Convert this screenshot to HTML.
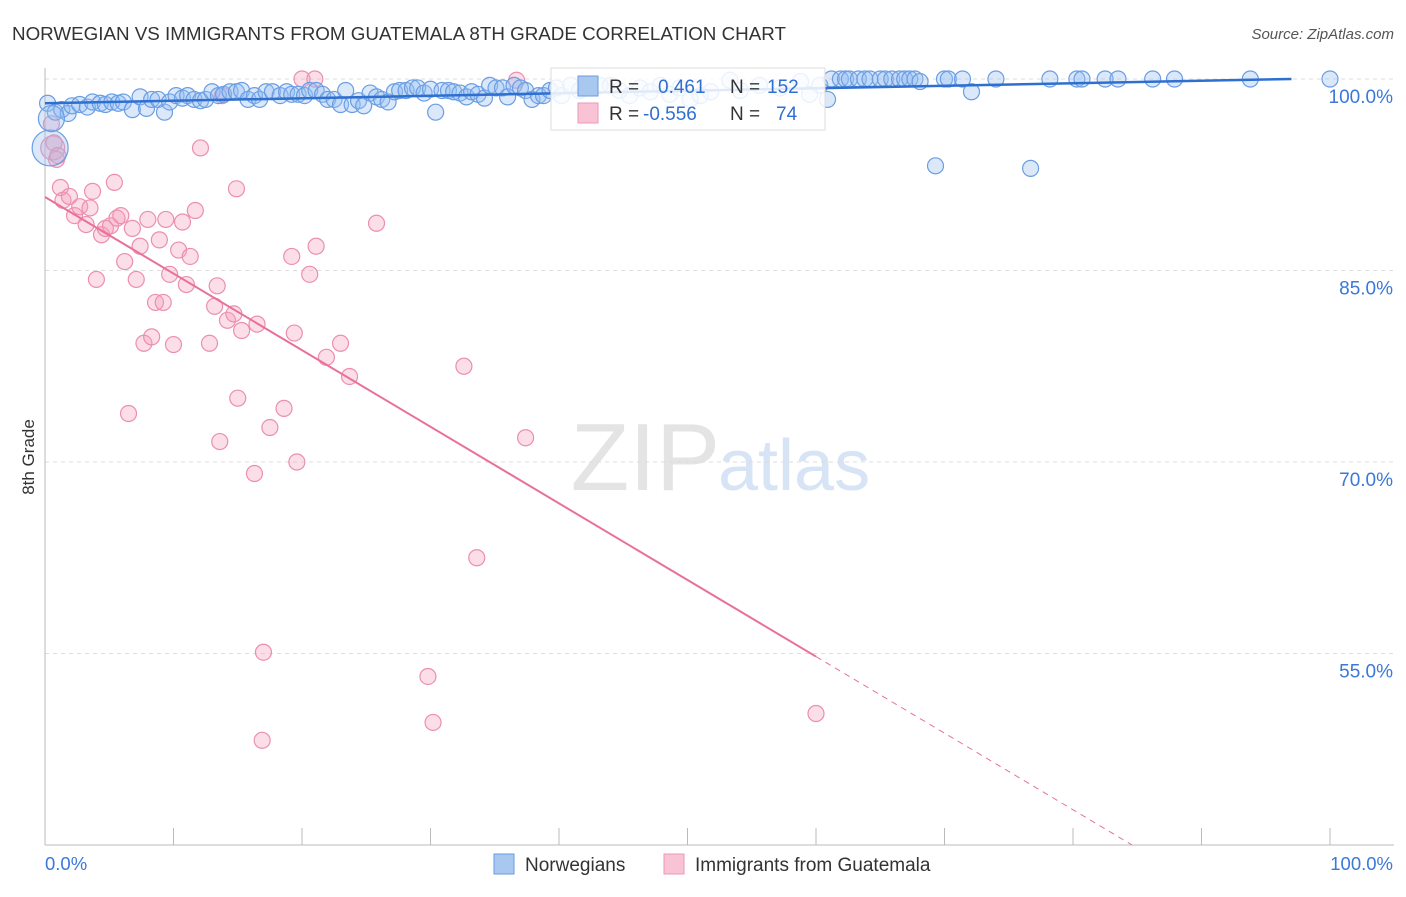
<!DOCTYPE html>
<html><head><meta charset="utf-8"><style>
body{margin:0;background:#fff;font-family:"Liberation Sans",sans-serif}
svg text{font-family:"Liberation Sans",sans-serif}
</style></head><body>
<svg width="1406" height="892">
<text x="12" y="40" font-size="18.8" fill="#333">NORWEGIAN VS IMMIGRANTS FROM GUATEMALA 8TH GRADE CORRELATION CHART</text>
<text x="1394" y="39" font-size="15" fill="#555" text-anchor="end" font-style="italic">Source: ZipAtlas.com</text>
<text x="720" y="490" font-size="96" fill="#e4e4e4" text-anchor="end" font-family="Liberation Serif">ZIP</text>
<text x="718" y="490" font-size="72" fill="#d6e4f5">atlas</text>
<g id="grid"></g>
<g id="axes"></g>
<g id="pts"></g>
<g id="lines"></g>
<text x="34" y="457" font-size="17" fill="#333" transform="rotate(-90 34 457)" text-anchor="middle">8th Grade</text>
<g>
<rect x="551" y="68" width="274" height="62" fill="#fff" fill-opacity="0.85" stroke="#ddd"/>
<rect x="578" y="76" width="20" height="20" fill="#a9c8f0" stroke="#6a9be0"/>
<rect x="578" y="103" width="20" height="20" fill="#f8c3d4" stroke="#ec9ab5"/>
<text x="609" y="93" font-size="19" fill="#333">R =</text>
<text x="658" y="93" font-size="19" fill="#2f6fd0">0.461</text>
<text x="730" y="93" font-size="19" fill="#333">N =</text>
<text x="767" y="93" font-size="19" fill="#2f6fd0">152</text>
<text x="609" y="120" font-size="19" fill="#333">R =</text>
<text x="643" y="120" font-size="19" fill="#2f6fd0">-0.556</text>
<text x="730" y="120" font-size="19" fill="#333">N =</text>
<text x="776" y="120" font-size="19" fill="#2f6fd0">74</text>
</g>
<g>
<rect x="494" y="854" width="20" height="20" fill="#a9c8f0" stroke="#6a9be0"/>
<text x="525" y="871" font-size="19" fill="#333">Norwegians</text>
<rect x="664" y="854" width="20" height="20" fill="#f8c3d4" stroke="#ec9ab5"/>
<text x="695" y="871" font-size="19" fill="#333">Immigrants from Guatemala</text>
</g>
</svg>
<script>
const yTicks=[100,85,70,55];
const yTickLabels=["100.0%","85.0%","70.0%","55.0%"];
const xTickLabels=["0.0%","100.0%"];
const blueX=[0.2,0.8,1.3,1.8,2.1,2.7,3.3,3.7,4.3,4.7,5.2,5.7,6.1,6.8,7.4,7.9,8.3,8.8,9.3,9.7,10.2,10.7,11.1,11.6,12.1,12.5,13.0,13.5,13.9,14.4,14.9,15.3,15.8,16.3,16.7,17.2,17.7,18.3,18.8,19.2,19.7,20.2,20.6,21.1,21.6,22.0,22.5,23.0,23.4,23.9,24.4,24.8,25.3,25.8,26.2,26.7,27.2,27.6,28.1,28.6,29.0,29.5,30.0,30.4,30.9,31.4,31.8,32.3,32.8,33.2,33.7,34.2,34.6,35.1,35.6,36.0,36.5,37.0,37.4,37.9,38.4,38.8,39.3,39.8,40.2,40.9,41.6,42.4,43.2,44.0,44.7,45.5,46.3,47.1,47.9,48.6,49.4,50.2,51.0,51.8,53.3,54.1,55.6,57.2,58.8,59.5,60.3,60.9,61.2,61.9,62.3,62.6,63.3,63.8,64.2,65.0,65.4,65.9,66.5,66.9,67.3,67.7,68.1,69.3,70.0,70.3,71.4,72.1,74.0,76.7,78.2,80.3,80.7,82.5,83.5,86.2,87.9,93.8,100.0,0.4,0.5];
const blueY=[98.1,97.4,97.6,97.3,97.9,98.0,97.8,98.2,98.1,98.0,98.2,98.1,98.2,97.6,98.6,97.7,98.4,98.4,97.4,98.2,98.7,98.5,98.7,98.4,98.3,98.4,99.0,98.7,98.8,99.0,99.0,99.1,98.4,98.7,98.4,99.0,99.0,98.7,99.0,98.8,98.8,98.7,99.1,99.1,98.8,98.4,98.4,98.0,99.1,98.0,98.3,97.9,98.9,98.6,98.4,98.2,99.0,99.1,99.1,99.3,99.3,98.9,99.2,97.4,99.1,99.1,99.0,98.9,98.6,99.0,98.8,98.5,99.5,99.3,99.3,98.6,99.5,99.3,99.1,98.4,98.7,98.7,99.1,99.3,98.7,99.5,99.1,99.3,99.5,99.5,99.1,98.7,99.3,99.0,99.5,98.8,99.3,98.4,98.7,99.0,99.9,99.1,99.5,99.3,99.8,98.8,99.5,98.4,100,100,100,100,100,100,100,100,100,100,100,100,100,100,99.8,93.2,100,100,100,99.0,100,93.0,100,100,100,100,100,100,100,100,100,94.6,96.9];
const blueR=[8];
const pinkX=[0.6,0.9,1.2,1.4,1.9,2.3,2.7,3.2,3.5,3.7,4.0,4.4,4.7,5.1,5.4,5.6,5.9,6.2,6.5,6.8,7.1,7.4,7.7,8.0,8.3,8.6,8.9,9.2,9.4,9.7,10.0,10.4,10.7,11.0,11.3,11.7,12.1,12.8,13.2,13.4,13.6,14.2,14.7,14.9,15.0,15.3,16.3,16.5,17.0,16.9,17.5,18.6,19.2,19.4,19.6,20.0,20.6,21.0,21.1,21.9,23.0,23.7,25.8,29.8,30.2,32.6,33.6,36.7,37.4,60.0,13.8,0.5,0.7,1.0];
const pinkY=[94.6,93.7,91.5,90.5,90.8,89.3,90.0,88.6,89.9,91.2,84.3,87.8,88.3,88.5,91.9,89.1,89.3,85.7,73.8,88.3,84.3,86.9,79.3,89.0,79.8,82.5,87.4,82.5,89.0,84.7,79.2,86.6,88.8,83.9,86.1,89.7,94.6,79.3,82.2,83.8,71.6,81.1,81.6,91.4,75.0,80.3,69.1,80.8,55.1,48.2,72.7,74.2,86.1,80.1,70.0,100,84.7,100,86.9,78.2,79.3,76.7,88.7,53.2,49.6,77.5,62.5,99.9,71.9,50.3,98.7,96.5,95.0,94.0];
const blueLine=[98.1,100.0];
const pinkLine=[90.76,-0.6];
const NS="http://www.w3.org/2000/svg";
const X0=45,X1=1330,Ytop=79,YPER=191.5/15;
const sx=v=>X0+(X1-X0)*v/100;
const sy=v=>Ytop+(100-v)*YPER;
function mk(tag,attrs,parent){const e=document.createElementNS(NS,tag);for(const k in attrs)e.setAttribute(k,attrs[k]);document.getElementById(parent).appendChild(e);return e;}
yTicks.forEach((t,i)=>{
 const l=mk('line',{x1:45,x2:1394,y1:sy(t),y2:sy(t),stroke:'#ddd','stroke-dasharray':'4,4'},'grid');
 
 
 const tx=mk('text',{x:1393,y:sy(t)+24,'font-size':19,fill:'#3b78d8','text-anchor':'end'},'grid');
 tx.textContent=yTickLabels[i];
 
 
});
const ax=mk('line',{x1:45,x2:45,y1:68,y2:845,stroke:'#bbb'},'axes');


const bx=mk('line',{x1:45,x2:1394,y1:845,y2:845,stroke:'#bbb'},'axes');


for(let i=0;i<=10;i++){
 const t=mk('line',{x1:sx(i*10),x2:sx(i*10),y1:828,y2:845,stroke:'#bbb'},'axes');
 
 
}
[[0,'start',45],[100,'end',1393]].forEach((d,i)=>{
 const t=mk('text',{x:d[2],y:870,'font-size':18.5,fill:'#3b78d8','text-anchor':d[1]},'axes');
 t.textContent=xTickLabels[i];
 
 
});
pinkX.forEach((x,i)=>{
 const r=i===0?12:8;
 const c=mk('circle',{cx:sx(x),cy:sy(pinkY[i]),r:r,fill:'rgba(244,160,188,0.35)',stroke:'#eb8fae','stroke-width':1.2},'pts');
 
 
});
blueX.forEach((x,i)=>{
 const n=blueX.length;
 const r=i===n-2?18:(i===n-1?13:blueR[0]);
 const c=mk('circle',{cx:sx(x),cy:sy(blueY[i]),r:r,fill:'rgba(150,190,240,0.35)',stroke:'#6a9ee4','stroke-width':1.2},'pts');
 
 
});
const bl=mk('line',{x1:sx(0),y1:sy(blueLine[0]),x2:sx(97),y2:sy(blueLine[1]),stroke:'#2f6fd0','stroke-width':2.5},'lines');


const py=x=>pinkLine[0]+pinkLine[1]*x;
const pl=mk('line',{x1:sx(0),y1:sy(py(0)),x2:sx(60),y2:sy(py(60)),stroke:'#e8719a','stroke-width':2},'lines');


const xe=(pinkLine[0]-40)/-pinkLine[1];
const pd=mk('line',{x1:sx(60),y1:sy(py(60)),x2:sx(xe),y2:sy(40),stroke:'#e8719a','stroke-width':1,'stroke-dasharray':'6,5'},'lines');


</script>
</body></html>
